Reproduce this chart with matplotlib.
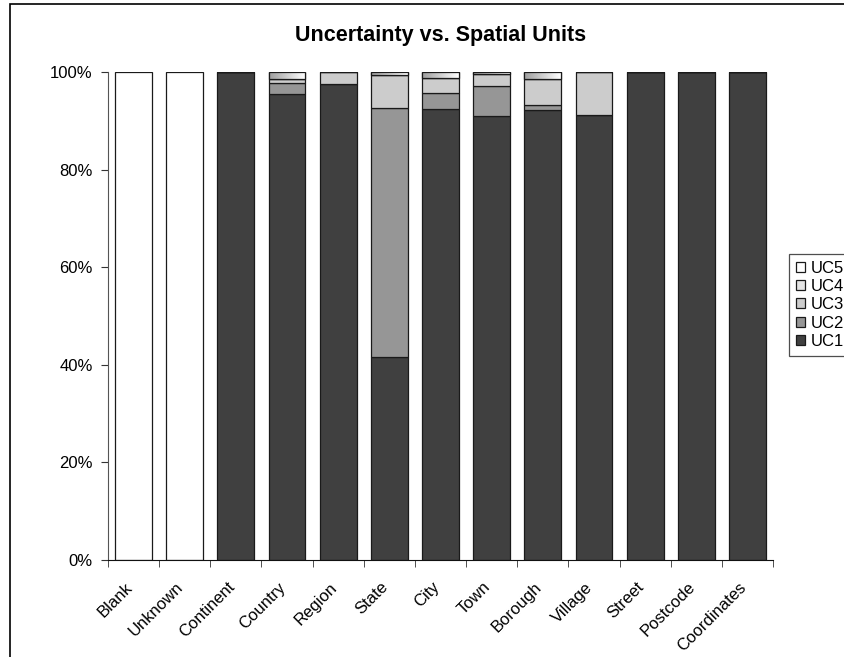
import numpy as np
import matplotlib.pyplot as plt
from matplotlib.patches import Rectangle
from matplotlib.transforms import ScaledTranslation

plt.rcParams['font.family'] = ['Liberation Sans', 'DejaVu Sans']

# percentage of records per uncertainty class for each spatial unit
units = ['Blank', 'Unknown', 'Continent', 'Country', 'Region', 'State', 'City',
         'Town', 'Borough', 'Village', 'Street', 'Postcode', 'Coordinates']
uc1 = [0, 0, 100, 95.5, 97.5, 41.5, 92.5, 91.0, 92.2, 91.2, 100, 100, 100]
uc2 = [0, 0, 0, 2.2, 0, 51.1, 3.1, 6.1, 1.0, 0, 0, 0, 0]
uc3 = [0, 0, 0, 0.8, 2.5, 6.7, 3.2, 2.4, 5.3, 8.8, 0, 0, 0]
uc4 = [0, 0, 0, 1.5, 0, 0.7, 1.2, 0.5, 1.5, 0, 0, 0, 0]
uc5 = [100, 100, 0, 0, 0, 0, 0, 0, 0, 0, 0, 0, 0]

series = [('UC1', uc1, '#404040'), ('UC2', uc2, '#969696'),
          ('UC3', uc3, '#cccccc'), ('UC4', uc4, '#e4e4e4'),
          ('UC5', uc5, '#ffffff')]

fig = plt.figure(figsize=(8.45, 6.57), dpi=100)
ax = fig.add_axes([0.1278, 0.1476, 0.7870, 0.7428])

x = np.arange(len(units))
bottom = np.zeros(len(units))
handles = []
grad = np.linspace(0.62, 1.0, 64).reshape(1, -1)
for name, vals, col in series:
    vals = np.array(vals, dtype=float)
    bars = ax.bar(x, vals, 0.72, bottom=bottom, color=col, edgecolor='#1a1a1a',
                  linewidth=0.9, label=name, zorder=2)
    if name == 'UC4':
        # shaded fill running from grey on the left to white on the right
        for b, v in zip(bars, vals):
            if v <= 0:
                continue
            x0, y0 = b.get_x(), b.get_y()
            im = ax.imshow(grad, cmap='gray', vmin=0, vmax=1, aspect='auto',
                           extent=[x0, x0 + b.get_width(), y0, y0 + v],
                           zorder=2.5, interpolation='bilinear')
            im.set_clip_path(b)
            ax.add_patch(Rectangle((x0, y0), b.get_width(), v, fill=False,
                                   edgecolor='#1a1a1a', linewidth=0.9, zorder=3))
    handles.append(bars)
    bottom += vals

ax.set_xlim(-0.5, len(units) - 0.5)
ax.set_ylim(0, 100)
ax.set_yticks(np.arange(0, 101, 20))
ax.set_yticklabels([f'{v}%' for v in range(0, 101, 20)], fontsize=12)
ax.set_xticks(x)
ax.set_xticklabels(units, rotation=45, ha='right', va='top',
                   rotation_mode='anchor', fontsize=12)
ax.tick_params(axis='x', which='major', length=0, pad=14)
shift = ScaledTranslation(-9 / 100, 0, fig.dpi_scale_trans)
for lab in ax.get_xticklabels():
    lab.set_transform(lab.get_transform() + shift)
ax.set_xticks(np.arange(-0.5, len(units), 1), minor=True)
ax.tick_params(axis='x', which='minor', length=5, direction='out', color='#333333')
ax.tick_params(axis='y', length=5, direction='out', color='#333333', pad=6)
for s in ['top', 'right']:
    ax.spines[s].set_visible(False)
ax.spines['left'].set_color('#555555')
ax.spines['bottom'].set_color('#111111')

fig.text(0.521, 0.946, 'Uncertainty vs. Spatial Units', ha='center', va='center',
         fontsize=15.5, fontweight='bold')

leg = fig.legend(handles[::-1], [s[0] for s in series][::-1], loc='upper left',
                 bbox_to_anchor=(789 / 845, 1 - 254 / 657), fontsize=12,
                 frameon=True, fancybox=False, edgecolor='#222222',
                 handlelength=0.55, handleheight=0.55, handletextpad=0.35,
                 labelspacing=0.2, borderpad=0.4, borderaxespad=0)
leg.get_frame().set_linewidth(0.9)

# outer chart border
fig.patches.append(Rectangle((10 / 845, -0.05), 1.0, 1 - 4 / 657 + 0.05,
                             transform=fig.transFigure, fill=False,
                             edgecolor='black', linewidth=1.2))

fig.savefig('out.png', dpi=100)
